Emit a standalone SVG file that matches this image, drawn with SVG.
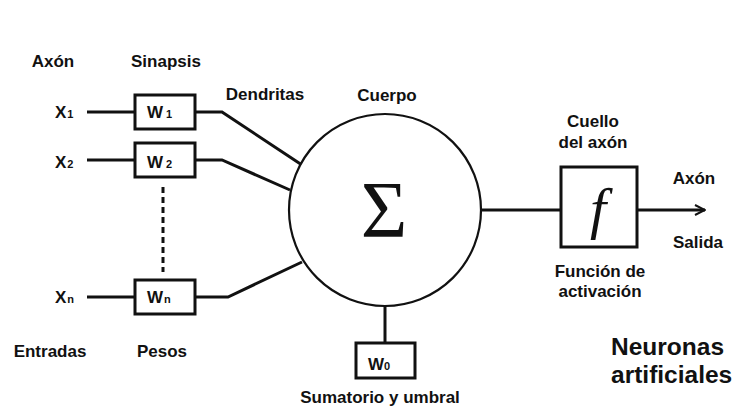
<svg xmlns="http://www.w3.org/2000/svg" width="753" height="410" viewBox="0 0 753 410">
  <defs>
    <style>
      text { font-family: "Liberation Sans", Arial, sans-serif; font-weight: bold; font-size: 17px; fill: #111; }
      .c { text-anchor: middle; }
      .sub { font-size: 11px; }
      .big { font-size: 24.5px; }
      .wire { fill: none; stroke: #111; stroke-width: 3; stroke-linejoin: miter; }
      .box { fill: #fff; stroke: #111; stroke-width: 3; }
      .math { font-family: "Liberation Serif", "Times New Roman", serif; font-weight: normal; }
      .sigma { font-size: 80px; }
      .fn { font-size: 58px; font-style: italic; }
    </style>
    <marker id="arrow" viewBox="0 0 12 12" refX="11" refY="6" markerWidth="12" markerHeight="12" markerUnits="userSpaceOnUse" orient="auto">
      <path d="M1,1 L11,6 L1,11" fill="none" stroke="#111" stroke-width="2"/>
    </marker>
  </defs>
  <rect width="753" height="410" fill="#fff"/>

  <!-- connectors -->
  <g id="connectors">
    <path class="wire" d="M87,112 H135 M195,112 H222 L302,165"/>
    <path class="wire" d="M87,160 H135 M195,160 H222 L290,190"/>
    <path class="wire" d="M87,297 H135 M195,297 H228 L302,262"/>
    <path class="wire" d="M163,187 V272" stroke-dasharray="6,4"/>
    <path class="wire" d="M385,306 V343"/>
    <path class="wire" d="M481,210 H561"/>
    <path class="wire" d="M637,210 H705" marker-end="url(#arrow)"/>
  </g>

  <!-- column headers -->
  <g id="headers">
    <text class="c" x="53" y="67">Axón</text>
    <text class="c" x="166" y="67">Sinapsis</text>
    <text class="c" x="265" y="100">Dendritas</text>
    <text class="c" x="387" y="101">Cuerpo</text>
    <text class="c" x="50" y="357">Entradas</text>
    <text class="c" x="162" y="357">Pesos</text>
  </g>

  <!-- inputs -->
  <g id="input-x1"><text x="55" y="118">X<tspan class="sub" dx="1">1</tspan></text></g>
  <g id="input-x2"><text x="55" y="168">X<tspan class="sub" dx="1">2</tspan></text></g>
  <g id="input-xn"><text x="55" y="303">X<tspan class="sub" dx="1">n</tspan></text></g>

  <!-- weights -->
  <g id="weight-w1">
    <rect class="box" x="135" y="95" width="60" height="34"/>
    <text x="147" y="118">W<tspan class="sub" dx="3">1</tspan></text>
  </g>
  <g id="weight-w2">
    <rect class="box" x="135" y="143" width="60" height="34"/>
    <text x="147" y="168">W<tspan class="sub" dx="3">2</tspan></text>
  </g>
  <g id="weight-wn">
    <rect class="box" x="135" y="280" width="60" height="34"/>
    <text x="147" y="303">W<tspan class="sub" dx="1">n</tspan></text>
  </g>

  <!-- cell body -->
  <g id="body">
    <circle cx="385" cy="210" r="96" fill="#fff" stroke="#111" stroke-width="2.2"/>
    <text class="c math sigma" x="384" y="237">Σ</text>
  </g>

  <!-- bias -->
  <g id="bias-w0">
    <rect class="box" x="356" y="343" width="59" height="35"/>
    <text x="368" y="370">W<tspan class="sub">0</tspan></text>
    <text class="c" x="380" y="403">Sumatorio y umbral</text>
  </g>

  <!-- activation -->
  <g id="activation">
    <rect class="box" x="561" y="167" width="76" height="80"/>
    <text class="c math fn" x="598" y="228">f</text>
    <text class="c" x="593" y="127">Cuello</text>
    <text class="c" x="593" y="148">del axón</text>
    <text class="c" x="600" y="277">Función de</text>
    <text class="c" x="600" y="297">activación</text>
  </g>

  <!-- output -->
  <g id="output">
    <text class="c" x="694" y="184">Axón</text>
    <text class="c" x="698" y="248">Salida</text>
  </g>

  <g id="title">
    <text class="big" x="611" y="355">Neuronas</text>
    <text class="big" x="611" y="383">artificiales</text>
  </g>
</svg>
